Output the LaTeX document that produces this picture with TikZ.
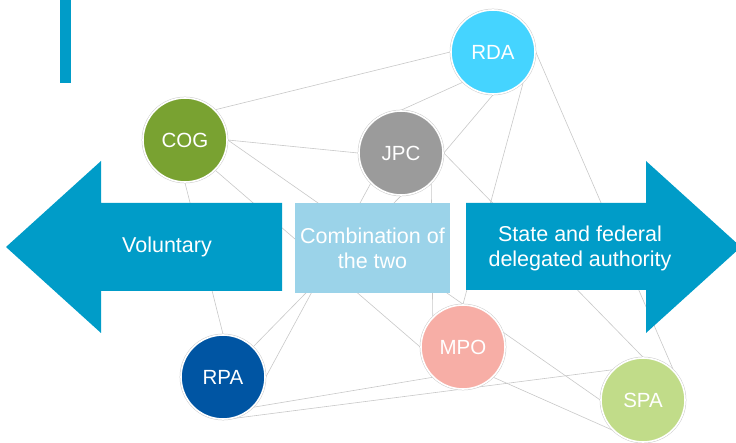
\documentclass[tikz,border=0pt]{standalone}
\usepackage{fontspec}
\setmainfont{Liberation Sans}
\definecolor{arrowblue}{HTML}{009CC8}
\definecolor{boxblue}{HTML}{9BD3E9}
\definecolor{linkgray}{HTML}{C8C8C8}
\definecolor{cogcol}{HTML}{79A231}
\definecolor{rdacol}{HTML}{45D4FF}
\definecolor{jpccol}{HTML}{9B9B9B}
\definecolor{rpacol}{HTML}{0055A3}
\definecolor{mpocol}{HTML}{F7AEA6}
\definecolor{spacol}{HTML}{C1DC89}
\pgfdeclarelayer{links}
\pgfdeclarelayer{arrows}
\pgfsetlayers{links,arrows,main}
\tikzset{
  agency/.style={circle, minimum size=84pt, inner sep=0pt, text=white,
    font=\fontsize{20.5}{24}\selectfont, draw=white, line width=1.6pt,
    preaction={draw=black!20, line width=2.6pt}},
  link/.style={draw=linkgray, line width=0.6pt},
  label/.style={text=white, align=center, font=\fontsize{21.5}{25}\selectfont},
}
\begin{document}
\begin{tikzpicture}[x=1pt, y=-1pt]
\useasboundingbox (0,0) rectangle (736,443);
\fill[arrowblue] (60,0) rectangle (71,83);

\node[agency, fill=cogcol] (cog) at (185,140) {COG};
\node[agency, fill=rdacol] (rda) at (493,52) {RDA};
\node[agency, fill=jpccol] (jpc) at (401,153) {JPC};
\node[agency, fill=rpacol] (rpa) at (223,377) {RPA};
\node[agency, fill=mpocol] (mpo) at (463,347) {MPO};
\node[agency, fill=spacol] (spa) at (643,400) {SPA};

\begin{pgfonlayer}{arrows}
\fill[arrowblue] (6,247) -- (101,161) -- (101,203) -- (282,203) -- (282,291)
  -- (101,291) -- (101,333) -- cycle;
\fill[arrowblue] (466,203) -- (646,203) -- (646,161) -- (741,247) -- (646,333)
  -- (646,290) -- (466,290) -- cycle;
\node[label] (vol) at (167,247) {Voluntary};
\node[label, fill=boxblue, minimum width=155pt, minimum height=90pt, inner sep=0pt] (comb) at (372.5,248) {Combination of\\the two};
\node[label] (state) at (580,248) {State and federal\\delegated authority};
\end{pgfonlayer}

\begin{pgfonlayer}{links}
\foreach \a/\b in {cog.45/rda.180, cog.0/jpc.180, cog.-90/rpa.90, cog.-45/mpo.180,
  cog.0/spa.180, jpc.90/rda.-135, jpc.0/rda.-90, jpc.-45/mpo.135, jpc.0/spa.90,
  jpc.-90/rpa.45, jpc.-135/rpa.0, rda.-45/mpo.90, rda.0/spa.45,
  rpa.-45/mpo.-135, rpa.-90/spa.135, mpo.-45/spa.-135}
  \draw[link] (\a) -- (\b);
\end{pgfonlayer}
\end{tikzpicture}
\end{document}
